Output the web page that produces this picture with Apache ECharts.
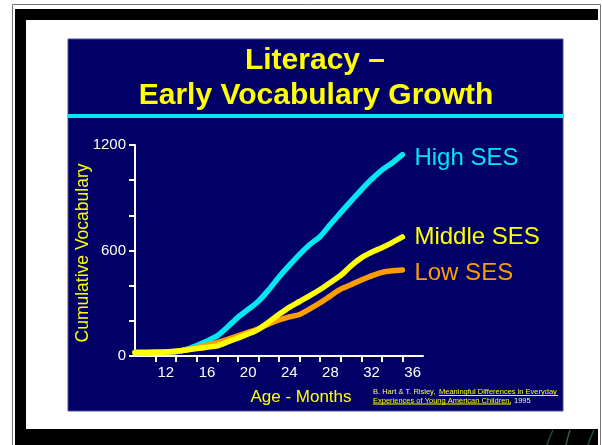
<!DOCTYPE html>
<html><head><meta charset="utf-8">
<script src="https://cdn.jsdelivr.net/npm/echarts@6/dist/echarts.min.js"></script>
<style>html,body{margin:0;padding:0;background:#fff}#c{width:602px;height:445px}</style>
</head><body><div id="c"></div>
<script>
// Data (months of age, cumulative vocabulary)
const months    = [9,10,11,12,13,14,15,16,17,18,19,20,21,22,23,24,25,26,27,28,29,30,31,32,33,34,35];
const highSES   = [20,20,21,22,24,38,60,85,115,165,220,265,312,376,449,515,578,634,680,749,815,881,945,1005,1057,1098,1145];
const middleSES = [20,20,21,23,27,34,42,50,58,80,102,125,152,193,237,277,310,343,378,418,458,513,558,590,616,645,677];
const lowSES    = [20,20,21,23,27,36,48,62,76,95,115,135,155,182,205,222,236,268,303,342,380,405,432,456,476,485,489];
const seriesNames = ['High SES','Middle SES','Low SES'];
const xTickMonths  = [11,13,15,17,19,21,23,25,27,29,31,33,35];
const xLabelMonths = [12,16,20,24,28,32,36];
const yLabelValues = [0,600,1200];

const F = 'Arial, "Liberation Sans", sans-serif';
const chart = echarts.init(document.getElementById('c'), null, {renderer:'canvas'});
const pts = arr => months.map((m,i)=>[m, arr[i]]);

function mkSeries(name, data, color, z, labelOffset){
  return {
    name, type:'line', data: pts(data), smooth:0.25, symbol:'none', z,
    lineStyle:{color, width:5.5, cap:'round', join:'round'},
    endLabel:{show:true, formatter:name, color, fontSize:24, fontFamily:F, distance:12, offset:labelOffset},
    animation:false
  };
}

chart.setOption({
  backgroundColor:'#ffffff',
  animation:false,
  grid:{left:135, right:179, top:145, bottom:89, containLabel:false},
  xAxis:{
    type:'value', min:9, max:37,
    axisLine:{show:true, lineStyle:{color:'#ffffff', width:2}},
    axisTick:{show:true, length:6, lineStyle:{color:'#ffffff', width:2}, customValues:xTickMonths},
    axisLabel:{color:'#ffffff', fontSize:15, fontFamily:F, margin:9, customValues:xLabelMonths, formatter:v=>String(v)},
    splitLine:{show:false}
  },
  yAxis:{
    type:'value', min:0, max:1200, interval:200,
    axisLine:{show:true, lineStyle:{color:'#ffffff', width:2}},
    axisTick:{show:true, length:6, lineStyle:{color:'#ffffff', width:2}},
    axisLabel:{color:'#ffffff', fontSize:15, fontFamily:F, margin:9, customValues:yLabelValues, formatter:v=>String(v)},
    splitLine:{show:false}
  },
  series:[
    mkSeries(seriesNames[0], highSES, '#00E8F2', 3, [0,4]),
    mkSeries(seriesNames[2], lowSES, '#FF9C00', 4, [0,3]),
    mkSeries(seriesNames[1], middleSES, '#FFFF00', 5, [0,0])
  ],
  graphic:[
    // outer frame
    {type:'rect', z:-100, shape:{x:12.5, y:4.5, width:588, height:460}, style:{fill:'none', stroke:'#777', lineWidth:1}},
    {type:'rect', z:-99, shape:{x:15, y:9, width:583, height:11}, style:{fill:'#000'}},
    {type:'rect', z:-99, shape:{x:15, y:9, width:11, height:440}, style:{fill:'#000'}},
    {type:'rect', z:-99, shape:{x:15, y:429, width:583, height:20}, style:{fill:'#000'}},
    {type:'bezierCurve', z:-98, shape:{x1:547, y1:445, x2:553, y2:430, cpx1:549, cpy1:439, cpx2:551, cpy2:434}, style:{stroke:'#1f4f4b', lineWidth:1.5, fill:'none'}},
    {type:'bezierCurve', z:-98, shape:{x1:566, y1:445, x2:570, y2:430, cpx1:567, cpy1:439, cpx2:569, cpy2:434}, style:{stroke:'#2a5f5a', lineWidth:1.5, fill:'none'}},
    {type:'bezierCurve', z:-98, shape:{x1:588, y1:445, x2:594, y2:430, cpx1:590, cpy1:439, cpx2:592, cpy2:434}, style:{stroke:'#1f4f4b', lineWidth:1.5, fill:'none'}},
    // blue panel
    {type:'rect', z:-90, shape:{x:68, y:39, width:495, height:372}, style:{fill:'#000066', stroke:'#4a4a9a', lineWidth:1}},
    {type:'rect', z:-89, shape:{x:68, y:114, width:495, height:4}, style:{fill:'#00E8F2'}},
    // title
    {type:'text', z:10, x:315, y:61, style:{text:'Literacy –', fill:'#FFFF00', font:'bold 30px '+F, textAlign:'center', textVerticalAlign:'middle'}},
    {type:'text', z:10, x:316, y:96, style:{text:'Early Vocabulary Growth', fill:'#FFFF00', font:'bold 30px '+F, textAlign:'center', textVerticalAlign:'middle'}},
    // axis titles
    {type:'text', z:10, x:83, y:253, rotation:Math.PI/2, style:{text:'Cumulative Vocabulary', fill:'#FFFF00', font:'17.5px '+F, textAlign:'center', textVerticalAlign:'middle'}},
    {type:'text', z:10, x:301, y:397, style:{text:'Age - Months', fill:'#FFFF00', font:'17px '+F, textAlign:'center', textVerticalAlign:'middle'}},
    // citation
    {type:'text', z:10, x:373, y:392, style:{text:'B. Hart & T. Risley, ', fill:'#FFFF55', font:'7.5px '+F, textAlign:'left', textVerticalAlign:'middle'}},
    {type:'text', z:10, x:439, y:392, style:{text:'Meaningful Differences in Everyday', fill:'#FFFF00', font:'7.5px '+F, textAlign:'left', textVerticalAlign:'middle'}},
    {type:'text', z:10, x:373, y:400.5, style:{text:'Experiences of Young American Children,', fill:'#FFFF00', font:'7.5px '+F, textAlign:'left', textVerticalAlign:'middle'}},
    {type:'text', z:10, x:514, y:400.5, style:{text:'1995', fill:'#EEEEDD', font:'7.5px '+F, textAlign:'left', textVerticalAlign:'middle'}},
    {type:'line', z:10, shape:{x1:439, y1:395.5, x2:558, y2:395.5}, style:{stroke:'#FFFF00', lineWidth:1}},
    {type:'line', z:10, shape:{x1:373, y1:404, x2:511, y2:404}, style:{stroke:'#FFFF00', lineWidth:1}}
  ]
});
</script>
</body></html>
